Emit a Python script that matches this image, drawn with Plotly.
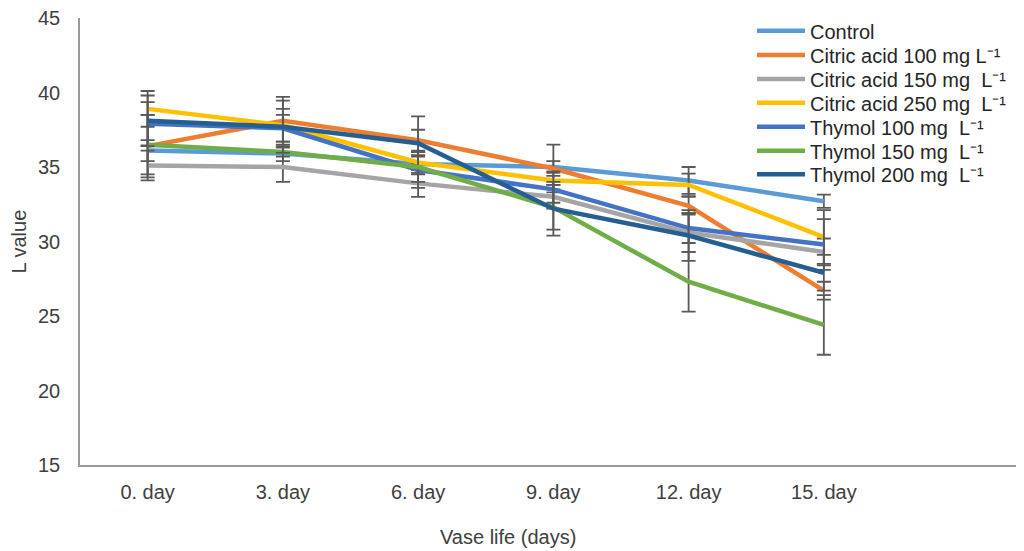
import plotly.graph_objects as go

days = ["0. day", "3. day", "6. day", "9. day", "12. day", "15. day"]
series_names = [
    "Control",
    "Citric acid 100 mg L⁻¹",
    "Citric acid 150 mg  L⁻¹",
    "Citric acid 250 mg  L⁻¹",
    "Thymol 100 mg  L⁻¹",
    "Thymol 150 mg  L⁻¹",
    "Thymol 200 mg  L⁻¹",
]
control = [36.1, 35.9, 35.2, 35.0, 34.1, 32.7]
citric100 = [36.4, 38.1, 36.8, 34.9, 32.4, 26.7]
citric150 = [35.1, 35.0, 33.9, 33.0, 30.6, 29.3]
citric250 = [38.9, 37.8, 35.3, 34.1, 33.8, 30.3]
thymol100 = [37.9, 37.6, 34.8, 33.5, 30.9, 29.8]
thymol150 = [36.5, 36.0, 35.0, 32.3, 27.3, 24.4]
thymol200 = [38.1, 37.7, 36.6, 32.2, 30.4, 27.9]

control_err = [0.7, 0.5, 0.6, 0.4, 0.9, 0.45]
citric100_err = [2.1, 1.6, 1.6, 1.6, 0.6, 0.6]
citric150_err = [1.0, 1.0, 0.9, 0.8, 1.3, 0.9]
citric250_err = [1.2, 1.1, 0.8, 0.6, 0.75, 1.8]
thymol100_err = [1.45, 0.9, 1.2, 0.9, 1.0, 1.7]
thymol150_err = [2.0, 0.3, 1.0, 1.5, 2.0, 2.0]
thymol200_err = [1.7, 1.75, 0.9, 1.8, 1.7, 1.2]

values = [control, citric100, citric150, citric250, thymol100, thymol150, thymol200]
errors = [control_err, citric100_err, citric150_err, citric250_err,
          thymol100_err, thymol150_err, thymol200_err]
colors = ["#5B9BD5", "#ED7D31", "#A5A5A5", "#FFC000", "#4472C4", "#70AD47", "#255E91"]

x_idx = list(range(len(days)))

# Figure geometry (page has an 8px body margin)
W, H = 1016, 543
L, R, T, B = 72, 0, 10, 86
plot_w = W - L - R
plot_h = H - T - B

def px_x(fx):
    return (fx - L) / plot_w

def px_y(fy):
    return 1 - (fy - T) / plot_h

font_family = "Liberation Sans, Arial, sans-serif"
legend_rows_fy = [22.7, 47.0, 71.0, 94.7, 118.7, 142.7, 166.3]
legend_keys = ["legend"] + [f"legend{i}" for i in range(2, 8)]

fig = go.Figure()
for i, (name, vals, errs, col) in enumerate(zip(series_names, values, errors, colors)):
    fig.add_trace(go.Scatter(
        x=x_idx, y=vals, name=name, mode="lines",
        line=dict(color=col, width=4.5),
        error_y=dict(type="data", array=errs, visible=True,
                     color="#595959", thickness=1.8, width=7),
        legend=legend_keys[i],
    ))

layout_legends = {}
for i, key in enumerate(legend_keys):
    layout_legends[key] = dict(
        x=px_x(744), y=px_y(legend_rows_fy[i]), xanchor="left", yanchor="middle",
        font=dict(family=font_family, size=20, color="#262626"),
        bgcolor="rgba(0,0,0,0)", itemwidth=48, borderwidth=0,
    )

fig.update_layout(
    width=W, height=H,
    margin=dict(l=L, r=R, t=T, b=B),
    paper_bgcolor="white", plot_bgcolor="white",
    font=dict(family=font_family, size=20, color="#404040"),
    showlegend=True,
    xaxis=dict(range=[-0.5, 6.48], tickmode="array", tickvals=x_idx, ticktext=days,
               showgrid=False, zeroline=False, showline=True,
               linecolor="#9a9a9a", linewidth=1.5, ticks="",
               ticklabelstandoff=8, tickfont=dict(size=20, color="#404040")),
    yaxis=dict(range=[15, 45], tickmode="array", tickvals=[15, 20, 25, 30, 35, 40, 45],
               showgrid=False, zeroline=False, ticklabeloverflow="allow",
               showline=True, linecolor="#9a9a9a", linewidth=1.5, ticks="",
               ticklabelstandoff=14, tickfont=dict(size=20, color="#404040")),
    **layout_legends,
)
fig.add_annotation(text="Vase life (days)", x=px_x(500), y=px_y(529),
                   xref="paper", yref="paper", showarrow=False,
                   xanchor="center", yanchor="middle",
                   font=dict(size=20, color="#404040"))
fig.add_annotation(text="L value", x=px_x(10), y=0.5,
                   xref="paper", yref="paper", textangle=-90,
                   showarrow=False, xanchor="center", yanchor="middle",
                   font=dict(size=20, color="#404040"))

fig.write_html("out.html")
